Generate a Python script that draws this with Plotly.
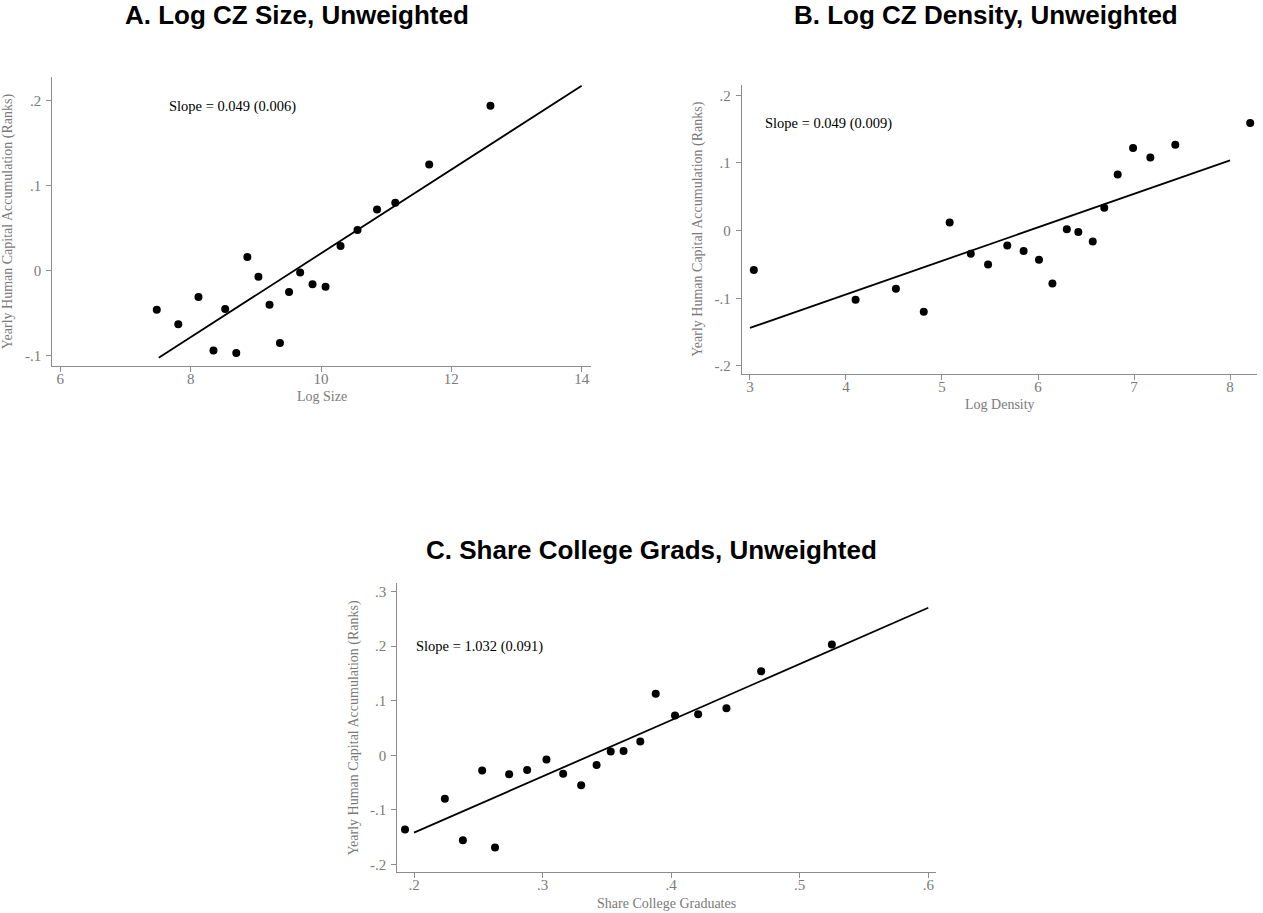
import plotly.graph_objects as go

W, H = 1263, 913

# ---------------- data ----------------
a_x = [7.48, 7.81, 8.12, 8.35, 8.53, 8.70, 8.87, 9.04, 9.21, 9.37,
       9.51, 9.68, 9.87, 10.07, 10.30, 10.56, 10.86, 11.14, 11.66, 12.60]
a_y = [-0.046, -0.063, -0.031, -0.094, -0.045, -0.097, 0.016, -0.007, -0.040, -0.085,
       -0.025, -0.002, -0.016, -0.019, 0.029, 0.048, 0.072, 0.080, 0.125, 0.194]
a_fit_x = [7.51, 14.0]
a_fit_y = [-0.1024, 0.2176]

b_x = [3.04, 4.10, 4.52, 4.81, 5.08, 5.30, 5.48, 5.68, 5.85, 6.01,
       6.15, 6.30, 6.42, 6.57, 6.69, 6.83, 6.99, 7.17, 7.43, 8.21]
b_y = [-0.058, -0.102, -0.086, -0.120, 0.012, -0.034, -0.050, -0.022, -0.030, -0.043,
       -0.078, 0.002, -0.002, -0.016, 0.034, 0.083, 0.122, 0.108, 0.127, 0.159]
b_fit_x = [3.0, 8.0]
b_fit_y = [-0.1438, 0.1039]

c_x = [0.193, 0.224, 0.238, 0.253, 0.263, 0.274, 0.288, 0.303, 0.316, 0.330,
       0.342, 0.353, 0.363, 0.376, 0.388, 0.403, 0.421, 0.443, 0.470, 0.525]
c_y = [-0.136, -0.080, -0.156, -0.028, -0.169, -0.035, -0.027, -0.008, -0.034, -0.055,
       -0.018, 0.007, 0.008, 0.025, 0.113, 0.073, 0.075, 0.086, 0.154, 0.203]
c_fit_x = [0.2, 0.6]
c_fit_y = [-0.142, 0.2705]

a_xticks = [6, 8, 10, 12, 14]
a_xlabels = ["6", "8", "10", "12", "14"]
a_yticks = [-0.1, 0, 0.1, 0.2]
a_ylabels = ["-.1", "0", ".1", ".2"]

b_xticks = [3, 4, 5, 6, 7, 8]
b_xlabels = ["3", "4", "5", "6", "7", "8"]
b_yticks = [-0.2, -0.1, 0, 0.1, 0.2]
b_ylabels = ["-.2", "-.1", "0", ".1", ".2"]

c_xticks = [0.2, 0.3, 0.4, 0.5, 0.6]
c_xlabels = [".2", ".3", ".4", ".5", ".6"]
c_yticks = [-0.2, -0.1, 0, 0.1, 0.2, 0.3]
c_ylabels = ["-.2", "-.1", "0", ".1", ".2", ".3"]

titles = ["A. Log CZ Size, Unweighted", "B. Log CZ Density, Unweighted",
          "C. Share College Grads, Unweighted"]
xtitles = ["Log Size", "Log Density", "Share College Graduates"]
ytitle = "Yearly Human Capital Accumulation (Ranks)"
slopes = ["Slope = 0.049 (0.006)", "Slope = 0.049 (0.009)", "Slope = 1.032 (0.091)"]

# ---------------- layout geometry (pixels) ----------------
def px(x):
    return x / W

def py(y):
    return 1 - y / H

panels = [
    dict(x0=52.3, x1=590.8, y0=77.0, y1=365.7, xr=[5.877, 14.14], yr=[-0.1118, 0.2279],
         slope_pos=(7.63, 0.193), title_x=296.5, title_y=15.5),
    dict(x0=742.0, x1=1257.3, y0=85.0, y1=373.7, xr=[2.917, 8.284], yr=[-0.2114, 0.2152],
         slope_pos=(3.132, 0.1586), title_x=985.5, title_y=15.5),
    dict(x0=397.3, x1=936.0, y0=583.3, y1=872.3, xr=[0.187, 0.606], yr=[-0.2147, 0.3154],
         slope_pos=(0.2, 0.2001), title_x=651.0, title_y=550.0),
]

data = [(a_x, a_y, a_fit_x, a_fit_y, a_xticks, a_xlabels, a_yticks, a_ylabels),
        (b_x, b_y, b_fit_x, b_fit_y, b_xticks, b_xlabels, b_yticks, b_ylabels),
        (c_x, c_y, c_fit_x, c_fit_y, c_xticks, c_xlabels, c_yticks, c_ylabels)]

SERIF = "Liberation Serif, Times New Roman, serif"
SANS = "Liberation Sans, Arial, sans-serif"
GREY_LINE = "#8c8c8c"
GREY_TEXT = "#7a7a7a"

fig = go.Figure()
layout = dict(width=W, height=H, margin=dict(l=0, r=0, t=0, b=0),
              paper_bgcolor="white", plot_bgcolor="white", showlegend=False)
annotations = []

for i, (p, d) in enumerate(zip(panels, data)):
    xs, ys, fx, fy, xt, xl, yt, yl = d
    sfx = "" if i == 0 else str(i + 1)
    xa, ya = "x" + sfx, "y" + sfx
    fig.add_trace(go.Scatter(x=fx, y=fy, mode="lines", xaxis=xa, yaxis=ya,
                             line=dict(color="black", width=1.8), hoverinfo="skip"))
    fig.add_trace(go.Scatter(x=xs, y=ys, mode="markers", xaxis=xa, yaxis=ya,
                             marker=dict(color="black", size=8, line=dict(width=0))))
    common = dict(showgrid=False, zeroline=False, showline=True, linecolor=GREY_LINE,
                  linewidth=1.3, ticks="outside", ticklen=5, tickwidth=1.1,
                  tickcolor=GREY_LINE, tickfont=dict(family=SERIF, size=15, color=GREY_TEXT),
                  fixedrange=True)
    layout["xaxis" + sfx] = dict(common, domain=[px(p["x0"]), px(p["x1"])], range=p["xr"],
                                 anchor=ya, tickmode="array", tickvals=xt, ticktext=xl,
                                 ticklabelstandoff=-6)
    layout["yaxis" + sfx] = dict(common, domain=[py(p["y1"]), py(p["y0"])], range=p["yr"],
                                 anchor=xa, tickmode="array", tickvals=yt, ticktext=yl,
                                 ticklabelstandoff=2)
    # slope text
    annotations.append(dict(x=p["slope_pos"][0], y=p["slope_pos"][1], xref=xa, yref=ya,
                            text=slopes[i], showarrow=False, xanchor="left", yanchor="middle",
                            font=dict(family=SERIF, size=14.5, color="black")))
    # panel title
    annotations.append(dict(x=px(p["title_x"]), y=py(p["title_y"]), xref="paper", yref="paper",
                            text="<b>" + titles[i] + "</b>", showarrow=False,
                            xanchor="center", yanchor="middle",
                            font=dict(family=SANS, size=26, color="black")))
    # x-axis title
    annotations.append(dict(x=px((p["x0"] + p["x1"]) / 2), y=py(p["y1"] + 31), xref="paper",
                            yref="paper", text=xtitles[i], showarrow=False,
                            xanchor="center", yanchor="middle",
                            font=dict(family=SERIF, size=14, color=GREY_TEXT)))
    # y-axis title
    annotations.append(dict(x=px(p["x0"] - 43.5), y=py((p["y0"] + p["y1"]) / 2), xref="paper",
                            yref="paper", text=ytitle, showarrow=False, textangle=-90,
                            xanchor="center", yanchor="middle",
                            font=dict(family=SERIF, size=14, color=GREY_TEXT)))

layout["annotations"] = annotations
fig.update_layout(**layout)
fig.write_html("out.html")
